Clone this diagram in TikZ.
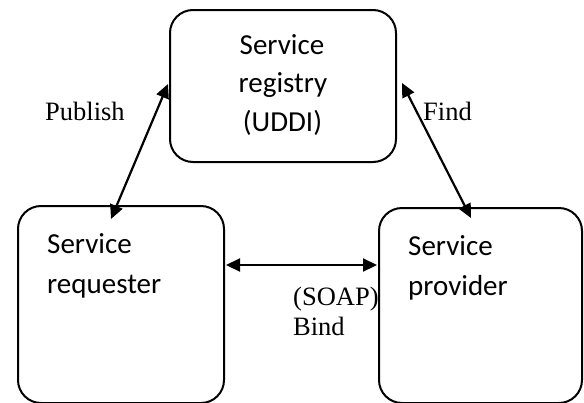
\documentclass[tikz,border=0pt]{standalone}
\usepackage{fontspec}
\setmainfont{Liberation Serif}
\newfontfamily\boxfont{Carlito}
\usetikzlibrary{arrows.meta}

\tikzset{
  box/.style={draw=black, line width=2pt, rounded corners=23pt, inner sep=0pt},
  boxtext/.style={font=\boxfont\fontsize{29}{38}\selectfont, inner sep=0pt},
  lbl/.style={font=\fontsize{26.5}{30}\selectfont, inner sep=0pt, anchor=base west},
  link/.style={line width=2.2pt,
    {Triangle[length=14pt,width=13pt]}-{Triangle[length=14pt,width=13pt]}}
}

\begin{document}
\begin{tikzpicture}[x=1pt, y=-1pt]
  \useasboundingbox (0,0) rectangle (584,402);
  \clip (0,0) rectangle (584,402);

  % the three parties
  \node[box, minimum width=226pt, minimum height=152pt] (reg) at (283,86) {};
  \node[box, minimum width=206pt, minimum height=197pt] (req) at (121,304.5) {};
  \node[box, minimum width=203pt, minimum height=195pt] (prov) at (480.5,305.5) {};

  % box captions
  \node[boxtext, anchor=base] (regA) at (282,54) {Service};
  \node[boxtext, anchor=base] (regB) at (283,92.5) {registry};
  \node[boxtext, anchor=base] (regC) at (282.5,131) {(UDDI)};
  \node[boxtext, anchor=base west] (reqA) at (47,253) {Service};
  \node[boxtext, anchor=base west] (reqB) at (47,293) {requester};
  \node[boxtext, anchor=base west] (provA) at (408,255) {Service};
  \node[boxtext, anchor=base west] (provB) at (408,295) {provider};

  % arrow end points on the boxes
  \coordinate (pubTop) at (168,84);
  \coordinate (pubBot) at (111,219);
  \coordinate (findTop) at (402,83);
  \coordinate (findBot) at (471,218);
  \coordinate (bindL) at (req.east |- 0,265);
  \coordinate (bindR) at (prov.west |- 0,265);

  \draw[link] (pubBot) -- (pubTop);
  \draw[link] (findTop) -- (findBot);
  \draw[link] ([xshift=1pt]bindL) -- ([xshift=-1pt]bindR);

  % interaction labels
  \node[lbl] (publish) at (45,120) {Publish};
  \node[lbl] (find) at (423,120) {Find};
  \node[lbl] (soap) at (293,305) {(SOAP)};
  \node[lbl] (bind) at (293,335) {Bind};
\end{tikzpicture}
\end{document}
